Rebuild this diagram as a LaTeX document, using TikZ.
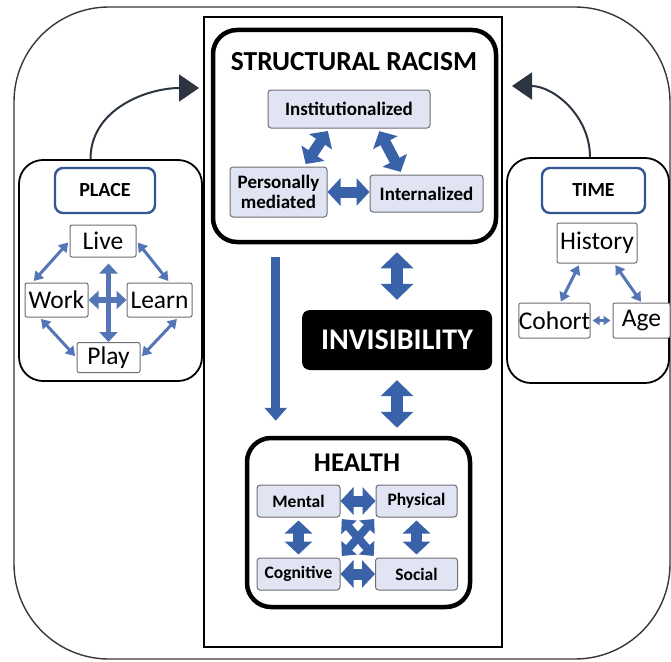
\documentclass[tikz,border=0pt]{standalone}
\usepackage{fontspec}
\setmainfont{Carlito}
\usetikzlibrary{arrows.meta,calc}
\definecolor{arrowblue}{RGB}{58,98,168}
\definecolor{thinblue}{RGB}{84,118,182}
\definecolor{boxfill}{RGB}{225,228,242}
\definecolor{boxedge}{RGB}{110,110,115}
\definecolor{titleblue}{RGB}{50,86,148}
\definecolor{darkslate}{RGB}{44,52,64}
\definecolor{framegray}{RGB}{55,55,55}
\begin{document}
\begin{tikzpicture}[x=1pt,y=-1pt,
		bigbox/.style={draw,line width=4.5pt,rounded corners=24pt},
		sidebox/.style={draw,line width=1.8pt,rounded corners=24pt},
		racebox/.style={draw=boxedge,fill=boxfill,line width=1pt,rounded corners=3pt,align=center,inner sep=0pt,font=\bfseries\fontsize{19}{20}\selectfont},
		healthbox/.style={racebox,minimum width=83pt,minimum height=32pt,font=\bfseries\fontsize{17.5}{18}\selectfont},
		titlebox/.style={draw=titleblue,line width=2.4pt,rounded corners=8pt,inner sep=0pt,font=\bfseries\fontsize{20}{20}\selectfont},
		factor/.style={draw=boxedge,fill=white,line width=1pt,rounded corners=2pt,inner sep=0pt,font=\fontsize{25.5}{25}\selectfont},
		blockarrow/.style={draw=arrowblue,line width=11pt,>={Triangle[width=27pt,length=13pt]},<->},
		crossarrow/.style={draw=arrowblue,line width=8pt,>={Triangle[width=20pt,length=11pt]},<->},
		thinarrow/.style={draw=thinblue,line width=3pt,>={Triangle[width=11pt,length=9pt]},<->},
		plusarrow/.style={draw=thinblue,line width=5.5pt,>={Triangle[width=18pt,length=10pt]},<->},
		bendarrow/.style={draw=darkslate,line width=2pt,-{Triangle[width=27pt,length=20pt]}}]
	\useasboundingbox (0,0) rectangle (671,661);
	\draw[framegray,line width=1.4pt,rounded corners=95pt] (14,7) rectangle (670,659);
	\draw[line width=2.2pt] (204,17) rectangle (502,647);

	\node[bigbox,minimum width=283pt,minimum height=212pt] (racism) at (354.5,136) {};
	\node[font=\bfseries\fontsize{27.5}{27}\selectfont] (racismtitle) at (354,62) {STRUCTURAL RACISM};
	\node[racebox,minimum width=162pt,minimum height=38pt] (inst) at (349,109) {Institutionalized};
	\node[racebox,minimum width=97pt,minimum height=50pt] (pers) at (278.5,192) {Personally\\mediated};
	\node[racebox,minimum width=113pt,minimum height=37pt] (intern) at (426.5,193.5) {Internalized};
	\draw[blockarrow,shorten <=3pt,shorten >=3pt] (inst.225) -- (pers.45);
	\draw[blockarrow,shorten <=3pt,shorten >=3pt] (inst.326) -- (intern.142);
	\draw[blockarrow] (pers.east) -- (pers.east -| intern.west);

	\node[fill=black,rounded corners=8pt,minimum width=190pt,minimum height=60pt,text=white,font=\bfseries\fontsize{30}{30}\selectfont] (invis) at (397,340) {INVISIBILITY};

	\node[bigbox,minimum width=223pt,minimum height=169pt] (health) at (358.5,522.5) {};
	\node[font=\bfseries\fontsize{27}{27}\selectfont] (healthtitle) at (357,463) {HEALTH};
	\node[healthbox] (mental) at (298.5,501) {Mental};
	\node[healthbox,minimum width=81pt] (physical) at (416.5,501) {Physical};
	\node[healthbox] (cognitive) at (298.5,574) {Cognitive};
	\node[healthbox,minimum width=82pt] (social) at (416.5,574) {Social};
	\draw[blockarrow] (mental.east) -- (physical.west);
	\draw[blockarrow] (cognitive.east) -- (social.west);
	\draw[blockarrow,shorten <=3pt,shorten >=3pt] (mental.south) -- (cognitive.north);
	\draw[blockarrow,shorten <=3pt,shorten >=3pt] (physical.south) -- (social.north);
	\draw[crossarrow,shorten <=2pt,shorten >=2pt] (mental.south east) -- (social.north west);
	\draw[crossarrow,shorten <=2pt,shorten >=2pt] (physical.south west) -- (cognitive.north east);

	\draw[draw=arrowblue,line width=9pt,-{Triangle[width=22pt,length=13pt]}] ([xshift=65pt,yshift=-13pt]racism.south west) -- ([xshift=31pt,yshift=15pt]health.north west);
	\draw[blockarrow,line width=12pt,>={Triangle[width=32pt,length=16pt]},shorten <=8pt,shorten >=10pt] (invis.north |- racism.south) -- (invis.north);
	\draw[blockarrow,line width=12pt,>={Triangle[width=32pt,length=16pt]},shorten <=10pt,shorten >=8pt] (invis.south) -- (invis.south |- health.north);

	\node[sidebox,minimum width=183pt,minimum height=221pt] (placebox) at (110.5,270.5) {};
	\node[titlebox,minimum width=100pt,minimum height=45pt] (place) at (105,190.5) {PLACE};
	\node[factor,minimum width=66pt,minimum height=32pt] (live) at (103,241) {Live};
	\node[factor,minimum width=63pt,minimum height=34pt] (work) at (56.5,300) {Work};
	\node[factor,minimum width=65pt,minimum height=34pt] (learn) at (159.5,300) {Learn};
	\node[factor,minimum width=63pt,minimum height=30pt] (play) at (108.5,357.5) {Play};
	\draw[thinarrow,shorten <=2pt,shorten >=2pt] (live.west) -- (work.144);
	\draw[thinarrow,shorten <=2pt,shorten >=2pt] (live.east) -- (learn.60);
	\draw[thinarrow,shorten <=2pt,shorten >=2pt] (work.226) -- (play.west);
	\draw[thinarrow,shorten <=2pt,shorten >=2pt] (learn.317) -- (play.east);
	\draw[plusarrow,shorten <=6pt] (play.north |- live.south) -- (play.north);
	\draw[plusarrow] (work.east) -- (learn.west);
	\coordinate (placetip) at (199,88);
	\draw[bendarrow] ([xshift=-20pt]placebox.north) to[out=90,in=180] (placetip);

	\node[sidebox,minimum width=162pt,minimum height=225pt] (timebox) at (588,270.5) {};
	\node[titlebox,minimum width=103pt,minimum height=45pt] (time) at (593.5,190.5) {TIME};
	\node[factor,minimum width=80pt,minimum height=40pt] (history) at (597,243) {History};
	\node[factor,minimum width=71pt,minimum height=35pt] (cohort) at (554.5,320.5) {Cohort};
	\node[factor,minimum width=57pt,minimum height=35pt] (age) at (641.5,320.5) {Age};
	\draw[thinarrow,shorten <=2pt,shorten >=1pt] (history.230) -- (cohort.72);
	\draw[thinarrow,shorten <=2pt,shorten >=1pt] (history.310) -- (age.north);
	\draw[thinarrow,>={Triangle[width=9pt,length=7pt]},shorten <=2pt,shorten >=2pt] (cohort.east) -- (age.west);
	\coordinate (timetip) at (512,86);
	\draw[bendarrow] ([xshift=2pt]timebox.north) to[out=90,in=0] (timetip);
\end{tikzpicture}
\end{document}
